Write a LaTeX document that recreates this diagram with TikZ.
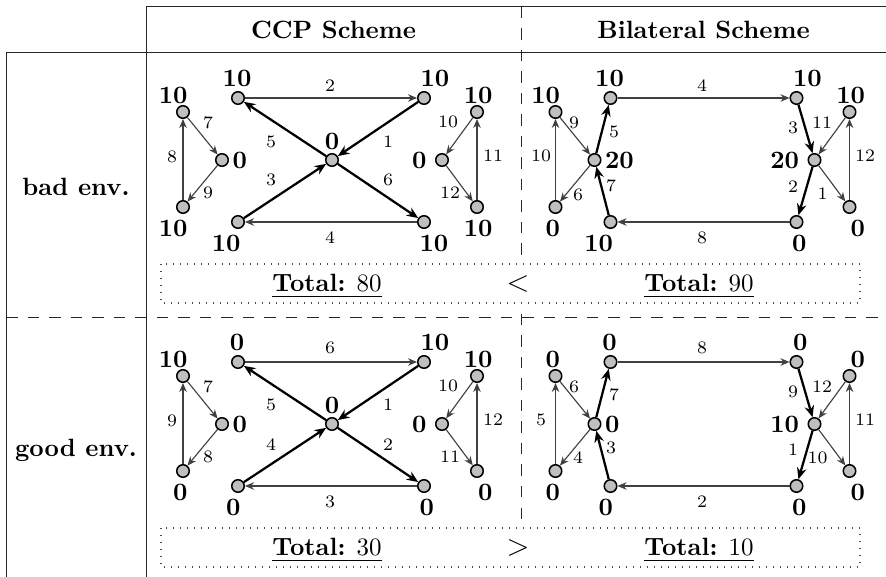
\documentclass[tikz,border=0pt]{standalone}
\usetikzlibrary{arrows.meta}
\begin{document}
\begin{tikzpicture}[x=0.4pt,y=-0.4pt,
  vtx/.style={circle, draw=black, fill=black!25, line width=0.6pt, minimum size=5pt, inner sep=0pt},
  val/.style={font=\bfseries, inner sep=0pt},
  elab/.style={font=\scriptsize, inner sep=0pt},
  hdr/.style={font=\bfseries},
  cmp/.style={font=\fontsize{13}{15}\selectfont},
  flow/.style={draw=black!75, line width=0.45pt, -{Stealth[length=3.6pt,width=3pt]}},
  bigflow/.style={draw=black, line width=0.9pt, -{Stealth[length=4.6pt,width=3.8pt]}},
  rule/.style={draw=black!85, line width=0.4pt},
  dashrule/.style={rule, dash pattern=on 4.6pt off 4pt},
  dotbox/.style={draw=black!70, line width=0.5pt, dash pattern=on 0.5pt off 2.3pt},
]
\useasboundingbox (0,0) rectangle (886,577);

% ---------- table frame ----------
\draw[rule] (146,7) -- (886,7);
\draw[rule] (6,53) -- (886,53);
\draw[rule] (6,53) -- (6,577);
\draw[rule] (146,7) -- (146,577);
\draw[dashrule] (6,318) -- (886,318);
\draw[dashrule] (521,7) -- (521,261);
\draw[dashrule] (521,314) -- (521,524);
\draw[dotbox] (161,264) rectangle (860,303);
\draw[dotbox] (161,528) rectangle (860,567);

\node[hdr] (hccp) at (333.5,30) {CCP Scheme};
\node[hdr] (hbil) at (703.5,30) {Bilateral Scheme};
\node[hdr] (rbad) at (76,187) {bad env.};
\node[hdr] (rgood) at (76,450) {good env.};

\node[anchor=base] (tA) at (327,292) {\underline{\textbf{Total:} 80}};
\node[cmp,anchor=base] (cmpA) at (518,292) {$<$};
\node[anchor=base] (tB) at (699,292) {\underline{\textbf{Total:} 90}};
\node[anchor=base] (tC) at (327,556) {\underline{\textbf{Total:} 30}};
\node[cmp,anchor=base] (cmpB) at (518,556) {$>$};
\node[anchor=base] (tD) at (699,556) {\underline{\textbf{Total:} 10}};

% ---------- CCP scheme, bad environment ----------
\node[vtx] (aL1) at (183,112) {};
\node[vtx] (aL2) at (222,160) {};
\node[vtx] (aL3) at (183,207) {};
\node[vtx] (aTL) at (238,98) {};
\node[vtx] (aTR) at (424,98) {};
\node[vtx] (aC)  at (332,160) {};
\node[vtx] (aBL) at (238,222) {};
\node[vtx] (aBR) at (424,222) {};
\node[vtx] (aR1) at (477,112) {};
\node[vtx] (aR2) at (442,160) {};
\node[vtx] (aR3) at (477,207) {};

\node[val,anchor=base east] (aL1v) at ([shift={(5,-8)}]aL1) {10};
\node[val,anchor=west] (aL2v) at ([shift={(10,0)}]aL2) {0};
\node[val,anchor=base east] (aL3v) at ([shift={(5,30)}]aL3) {10};
\node[val,anchor=base] (aTLv) at ([shift={(-1,-11)}]aTL) {10};
\node[val,anchor=base west] (aTRv) at ([shift={(-4,-11)}]aTR) {10};
\node[val,anchor=base] (aCv) at ([shift={(0,-10)}]aC) {0};
\node[val,anchor=base east] (aBLv) at ([shift={(3,30)}]aBL) {10};
\node[val,anchor=base west] (aBRv) at ([shift={(-5,30)}]aBR) {10};
\node[val,anchor=base east] (aR1v) at ([shift={(16,-8)}]aR1) {10};
\node[val,anchor=east] (aR2v) at ([shift={(-15,0)}]aR2) {0};
\node[val,anchor=base east] (aR3v) at ([shift={(16,30)}]aR3) {10};

\draw[flow] (aTL) -- (aTR);
\draw[bigflow] (aTR) -- (aC);
\draw[bigflow] (aC) -- (aTL);
\draw[bigflow] (aBL) -- (aC);
\draw[bigflow] (aC) -- (aBR);
\draw[flow] (aBR) -- (aBL);
\draw[flow] (aL1) -- (aL2);
\draw[flow] (aL2) -- (aL3);
\draw[flow] (aL3) -- (aL1);
\draw[flow] (aR1) -- (aR2);
\draw[flow] (aR2) -- (aR3);
\draw[flow] (aR3) -- (aR1);

\node[elab] (ae1) at (388,142) {1};
\node[elab] (ae2) at (330,86) {2};
\node[elab] (ae3) at (271,180) {3};
\node[elab] (ae4) at (330,238) {4};
\node[elab] (ae5) at (271,142) {5};
\node[elab] (ae6) at (388,180) {6};
\node[elab] (ae7) at (208,123) {7};
\node[elab] (ae8) at (172,157) {8};
\node[elab] (ae9) at (208,193) {9};
\node[elab] (ae10) at (448,122) {10};
\node[elab] (ae11) at (493,156) {11};
\node[elab] (ae12) at (450,193) {12};

% ---------- Bilateral scheme, bad environment ----------
\node[vtx] (bL1) at (555.5,112) {};
\node[vtx] (bH1) at (594.5,160) {};
\node[vtx] (bL3) at (555.5,207) {};
\node[vtx] (bTL) at (610.5,98) {};
\node[vtx] (bTR) at (796.5,98) {};
\node[vtx] (bBL) at (610.5,222) {};
\node[vtx] (bBR) at (796.5,222) {};
\node[vtx] (bR1) at (849.5,112) {};
\node[vtx] (bH2) at (814.5,160) {};
\node[vtx] (bR3) at (849.5,207) {};

\node[val,anchor=base east] (bL1v) at ([shift={(5,-8)}]bL1) {10};
\node[val,anchor=west] (bH1v) at ([shift={(10,0)}]bH1) {20};
\node[val,anchor=base east] (bL3v) at ([shift={(5,30)}]bL3) {0};
\node[val,anchor=base] (bTLv) at ([shift={(-1,-11)}]bTL) {10};
\node[val,anchor=base west] (bTRv) at ([shift={(-4,-11)}]bTR) {10};
\node[val,anchor=base east] (bBLv) at ([shift={(3,30)}]bBL) {10};
\node[val,anchor=base west] (bBRv) at ([shift={(-5,30)}]bBR) {0};
\node[val,anchor=base east] (bR1v) at ([shift={(16,-8)}]bR1) {10};
\node[val,anchor=east] (bH2v) at ([shift={(-15,0)}]bH2) {20};
\node[val,anchor=base east] (bR3v) at ([shift={(16,30)}]bR3) {0};

\draw[flow] (bTL) -- (bTR);
\draw[bigflow] (bH1) -- (bTL);
\draw[bigflow] (bBL) -- (bH1);
\draw[flow] (bL1) -- (bH1);
\draw[flow] (bH1) -- (bL3);
\draw[flow] (bL3) -- (bL1);
\draw[bigflow] (bTR) -- (bH2);
\draw[bigflow] (bH2) -- (bBR);
\draw[flow] (bR1) -- (bH2);
\draw[flow] (bH2) -- (bR3);
\draw[flow] (bR3) -- (bR1);
\draw[flow] (bBR) -- (bBL);

\node[elab] (be4) at (702,86) {4};
\node[elab] (be5) at (614,132) {5};
\node[elab] (be7) at (611,186) {7};
\node[elab] (be9) at (574,123) {9};
\node[elab] (be6) at (578,195) {6};
\node[elab] (be10) at (541,156) {10};
\node[elab] (be3) at (793,128) {3};
\node[elab] (be2) at (793,187) {2};
\node[elab] (be11) at (822,123) {11};
\node[elab,anchor=east] (be1) at (828,194) {1};
\node[elab] (be12) at (865,156) {12};
\node[elab] (be8) at (702,238) {8};

\begin{scope}[shift={(0,264)}]
% ---------- CCP scheme, good environment ----------
\node[vtx] (cL1) at (183,112) {};
\node[vtx] (cL2) at (222,160) {};
\node[vtx] (cL3) at (183,207) {};
\node[vtx] (cTL) at (238,98) {};
\node[vtx] (cTR) at (424,98) {};
\node[vtx] (cC)  at (332,160) {};
\node[vtx] (cBL) at (238,222) {};
\node[vtx] (cBR) at (424,222) {};
\node[vtx] (cR1) at (477,112) {};
\node[vtx] (cR2) at (442,160) {};
\node[vtx] (cR3) at (477,207) {};

\node[val,anchor=base east] (cL1v) at ([shift={(5,-8)}]cL1) {10};
\node[val,anchor=west] (cL2v) at ([shift={(10,0)}]cL2) {0};
\node[val,anchor=base east] (cL3v) at ([shift={(5,30)}]cL3) {0};
\node[val,anchor=base] (cTLv) at ([shift={(-1,-11)}]cTL) {0};
\node[val,anchor=base west] (cTRv) at ([shift={(-4,-11)}]cTR) {10};
\node[val,anchor=base] (cCv) at ([shift={(0,-10)}]cC) {0};
\node[val,anchor=base east] (cBLv) at ([shift={(3,30)}]cBL) {0};
\node[val,anchor=base west] (cBRv) at ([shift={(-5,30)}]cBR) {0};
\node[val,anchor=base east] (cR1v) at ([shift={(16,-8)}]cR1) {10};
\node[val,anchor=east] (cR2v) at ([shift={(-15,0)}]cR2) {0};
\node[val,anchor=base east] (cR3v) at ([shift={(16,30)}]cR3) {0};

\draw[flow] (cTL) -- (cTR);
\draw[bigflow] (cTR) -- (cC);
\draw[bigflow] (cC) -- (cTL);
\draw[bigflow] (cBL) -- (cC);
\draw[bigflow] (cC) -- (cBR);
\draw[flow] (cBR) -- (cBL);
\draw[flow] (cL1) -- (cL2);
\draw[flow] (cL2) -- (cL3);
\draw[flow] (cL3) -- (cL1);
\draw[flow] (cR1) -- (cR2);
\draw[flow] (cR2) -- (cR3);
\draw[flow] (cR3) -- (cR1);

\node[elab] (ce1) at (388,141) {1};
\node[elab] (ce6) at (330,84) {6};
\node[elab] (ce4) at (271,181) {4};
\node[elab] (ce3) at (330,238) {3};
\node[elab] (ce5) at (271,141) {5};
\node[elab] (ce2) at (388,181) {2};
\node[elab] (ce7) at (208,123) {7};
\node[elab] (ce9) at (172,157) {9};
\node[elab] (ce8) at (208,193) {8};
\node[elab] (ce10) at (448,122) {10};
\node[elab] (ce12) at (493,156) {12};
\node[elab] (ce11) at (450,193) {11};

% ---------- Bilateral scheme, good environment ----------
\node[vtx] (dL1) at (555.5,112) {};
\node[vtx] (dH1) at (594.5,160) {};
\node[vtx] (dL3) at (555.5,207) {};
\node[vtx] (dTL) at (610.5,98) {};
\node[vtx] (dTR) at (796.5,98) {};
\node[vtx] (dBL) at (610.5,222) {};
\node[vtx] (dBR) at (796.5,222) {};
\node[vtx] (dR1) at (849.5,112) {};
\node[vtx] (dH2) at (814.5,160) {};
\node[vtx] (dR3) at (849.5,207) {};

\node[val,anchor=base east] (dL1v) at ([shift={(5,-8)}]dL1) {0};
\node[val,anchor=west] (dH1v) at ([shift={(10,0)}]dH1) {0};
\node[val,anchor=base east] (dL3v) at ([shift={(5,30)}]dL3) {0};
\node[val,anchor=base] (dTLv) at ([shift={(-1,-11)}]dTL) {0};
\node[val,anchor=base west] (dTRv) at ([shift={(-4,-11)}]dTR) {0};
\node[val,anchor=base east] (dBLv) at ([shift={(3,30)}]dBL) {0};
\node[val,anchor=base west] (dBRv) at ([shift={(-5,30)}]dBR) {0};
\node[val,anchor=base east] (dR1v) at ([shift={(16,-8)}]dR1) {0};
\node[val,anchor=east] (dH2v) at ([shift={(-15,0)}]dH2) {10};
\node[val,anchor=base east] (dR3v) at ([shift={(16,30)}]dR3) {0};

\draw[flow] (dTL) -- (dTR);
\draw[bigflow] (dH1) -- (dTL);
\draw[bigflow] (dBL) -- (dH1);
\draw[flow] (dL1) -- (dH1);
\draw[flow] (dH1) -- (dL3);
\draw[flow] (dL3) -- (dL1);
\draw[bigflow] (dTR) -- (dH2);
\draw[bigflow] (dH2) -- (dBR);
\draw[flow] (dR1) -- (dH2);
\draw[flow] (dH2) -- (dR3);
\draw[flow] (dR3) -- (dR1);
\draw[flow] (dBR) -- (dBL);

\node[elab] (de8) at (702,84) {8};
\node[elab] (de7) at (614,131) {7};
\node[elab] (de3) at (611,184) {3};
\node[elab] (de6) at (574,123) {6};
\node[elab] (de4) at (578,194) {4};
\node[elab] (de5) at (541,156) {5};
\node[elab] (de9) at (793,128) {9};
\node[elab] (de1) at (793,186) {1};
\node[elab] (de12) at (822,123) {12};
\node[elab,anchor=east] (de10) at (828,194) {10};
\node[elab] (de11) at (865,156) {11};
\node[elab] (de2) at (702,238) {2};
\end{scope}
\end{tikzpicture}
\end{document}
